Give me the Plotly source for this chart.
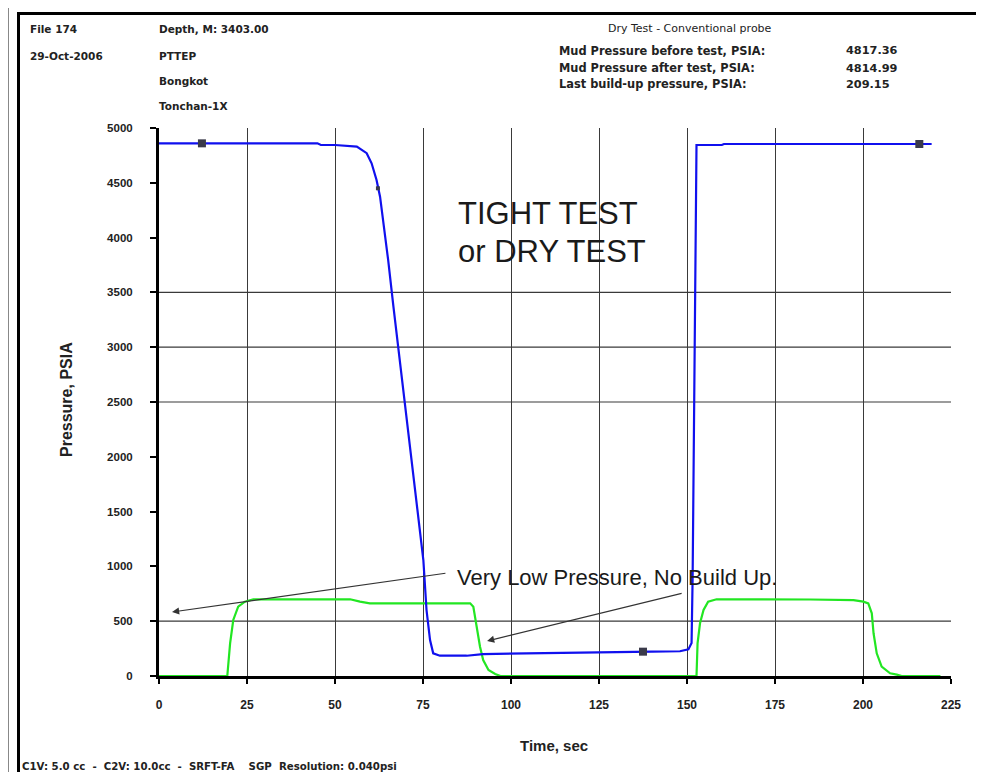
import plotly.graph_objects as go

# ---------------- data ----------------
pressure_t = [0, 10, 20, 30, 40, 45, 46, 50, 56.2, 59, 60.4, 61.8, 62.8, 63.7, 65.1, 66.6,
              68, 70, 72, 74, 75.1, 76, 77, 77.9, 79.8, 84, 87.4, 92, 100, 109, 120, 130,
              140, 148, 150.4, 151.3, 151.6, 152, 152.4, 152.7, 155, 159.9, 160.5, 170,
              180, 190, 200, 210, 219.5]
pressure_p = [4860, 4860, 4860, 4860, 4860, 4860, 4845, 4845, 4830, 4770, 4678, 4525, 4373,
              4160, 3796, 3370, 2990, 2450, 1900, 1380, 1058, 602, 328, 207, 185, 185, 185,
              200, 205, 210, 215, 218, 222, 226, 243, 301, 900, 2600, 4300, 4845, 4845,
              4845, 4854, 4854, 4854, 4854, 4854, 4854, 4854]

volume_t = [0, 10, 19.4, 20.2, 21.1, 22.5, 24.4, 26.8, 35, 45, 54.3, 57.1, 59.9, 70, 80,
            88.4, 89.3, 90.3, 91.2, 92.1, 93.6, 95.5, 97, 110, 130, 150, 152.7, 153.0,
            153.7, 154.7, 156, 158.4, 170, 185, 197.3, 200.1, 201.5, 202.5, 203, 203.9,
            205.3, 207.7, 209.6, 211, 222]
volume_p = [0, 0, 0, 298, 511, 632, 678, 700, 700, 700, 700, 678, 663, 663, 663, 663, 632,
            450, 267, 146, 55, 18, 0, 0, 0, 0, 0, 298, 481, 602, 678, 700, 700, 698, 693,
            678, 663, 572, 390, 207, 85, 25, 12, 0, 0]

marker_t = [12.2, 137.5, 216]
marker_p = [4860, 222, 4854]
small_marker_t = [62.2]
small_marker_p = [4450]

x_ticks = [0, 25, 50, 75, 100, 125, 150, 175, 200, 225]
y_ticks = [0, 500, 1000, 1500, 2000, 2500, 3000, 3500, 4000, 4500, 5000]
grid_levels = [500, 2500, 3000, 3500]

header_left = [("File 174", 28, 29), ("29-Oct-2006", 28, 56),
               ("Depth, M: 3403.00", 157, 29), ("PTTEP", 157, 56),
               ("Bongkot", 157, 81), ("Tonchan-1X", 157, 106)]
summary_labels = ["Mud Pressure before test, PSIA:", "Mud Pressure after test, PSIA:",
                  "Last build-up pressure, PSIA:"]
summary_values = ["4817.36", "4814.99", "209.15"]
test_title = "Dry Test - Conventional probe"
big_text = ["TIGHT TEST", "or DRY TEST"]
note_text = "Very Low Pressure, No Build Up."
footer_text = "C1V: 5.0 cc  -  C2V: 10.0cc  -  SRFT-FA    SGP  Resolution: 0.040psi"

# ---------------- layout geometry (screen pixels; page body has an 8px margin) ----------------
OFF = 8
W, H = 984 - 2 * OFF, 780 - 2 * OFF
L, R, T, B = 159, 951, 128, 676  # plot area in screen pixels


def px(x):
    return (x - L) / (R - L)


def py(y):
    return (B - y) / (B - T)


FONT = "Arial, Liberation Sans, sans-serif"
HFONT = "DejaVu Sans, Verdana, sans-serif"
TXT = "#222222"

fig = go.Figure()
fig.add_trace(go.Scatter(x=volume_t, y=volume_p, mode="lines",
                         line=dict(color="#22e622", width=2.2), cliponaxis=False,
                         hoverinfo="skip"))
fig.add_trace(go.Scatter(x=pressure_t, y=pressure_p, mode="lines",
                         line=dict(color="#1010ee", width=2.2), hoverinfo="skip"))
fig.add_trace(go.Scatter(x=marker_t, y=marker_p, mode="markers",
                         marker=dict(symbol="square", size=8, color="#3a3a4a"),
                         hoverinfo="skip"))
fig.add_trace(go.Scatter(x=small_marker_t, y=small_marker_p, mode="markers",
                         marker=dict(symbol="square", size=4, color="#3a3a4a"),
                         hoverinfo="skip"))

annotations = []


def text(s, x, y, size=11, bold=True, xanchor="left", color=TXT, textangle=0, family=FONT):
    annotations.append(dict(
        text=s, x=px(x), y=py(y), xref="paper", yref="paper", showarrow=False,
        xanchor=xanchor, yanchor="middle", textangle=textangle,
        font=dict(family=family, size=size, color=color,
                  weight="bold" if bold else "normal")))


for s, x, y in header_left:
    text(s, x, y, size=10.5, family=HFONT)
text(test_title, 690, 29, size=11, bold=False, xanchor="center", family=HFONT)
for i, (lab, val) in enumerate(zip(summary_labels, summary_values)):
    yy = [51, 68, 84][i]
    text(lab, 557, yy, size=11.4, family=HFONT)
    text(val, 844, yy, size=11.3, family=HFONT)
text(big_text[0], 456, 213, size=31, bold=False, color="#1a1a1a")
text(big_text[1], 456, 252, size=31, bold=False, color="#1a1a1a")
text(note_text, 455, 577, size=22, bold=False, color="#1a1a1a")
text("Time, sec", 554, 745, size=15, xanchor="center")
text("Pressure, PSIA", 66, 400, size=16, xanchor="center", textangle=-90)
text(footer_text.replace(" ", "\u00a0"), 20, 766, size=10.2, family=HFONT)

# arrows (data coordinates)
arrows = [((3.7, 584), (81.8, 940)), ((93.2, 319), (148.9, 757))]
for (hx, hy), (tx, ty) in arrows:
    annotations.append(dict(
        x=hx, y=hy, ax=tx, ay=ty, xref="x", yref="y", axref="x", ayref="y",
        text="", showarrow=True, arrowhead=2, arrowsize=1.3, arrowwidth=1.1,
        arrowcolor="#333333"))

shapes = []
for lvl in grid_levels:
    shapes.append(dict(type="line", xref="paper", x0=0, x1=1, yref="y", y0=lvl, y1=lvl,
                       line=dict(color="#3a3a3a", width=1.2), layer="below"))


def frame_line(x0, y0, x1, y1, color, width):
    shapes.append(dict(type="line", xref="paper", yref="paper",
                       x0=px(x0), y0=py(y0), x1=px(x1), y1=py(y1),
                       line=dict(color=color, width=width)))


# page frame: only top and left edges are visible in the picture
frame_line(8.5, 4.5, 990, 4.5, "#888888", 1)
frame_line(8.5, 4.5, 8.5, 790, "#888888", 1)
frame_line(17, 13.5, 990, 13.5, "#000000", 3)
frame_line(18.5, 12, 18.5, 790, "#000000", 3)

fig.update_layout(
    width=W, height=H, autosize=False,
    margin=dict(l=L - OFF, r=W - (R - OFF), t=T - OFF, b=H - (B - OFF), pad=0),
    paper_bgcolor="white", plot_bgcolor="white",
    showlegend=False,
    annotations=annotations, shapes=shapes,
    xaxis=dict(range=[0, 225], tickmode="array", tickvals=x_ticks,
               ticks="outside", ticklen=5, tickwidth=2, tickcolor="black",
               showline=True, linewidth=3, linecolor="black",
               showgrid=True, gridcolor="#3a3a3a", gridwidth=1.2, zeroline=False,
               layer="below traces", ticklabelstandoff=11,
               tickfont=dict(family=FONT, size=12, color=TXT, weight="bold")),
    yaxis=dict(range=[0, 5000], tickmode="array", tickvals=y_ticks,
               ticks="outside", ticklen=6, tickwidth=2, tickcolor="black",
               showline=True, linewidth=3, linecolor="black",
               showgrid=False, zeroline=False, layer="below traces",
               ticklabelstandoff=15,
               tickfont=dict(family=FONT, size=11.5, color=TXT, weight="bold")),
)

fig.write_html("out.html")
